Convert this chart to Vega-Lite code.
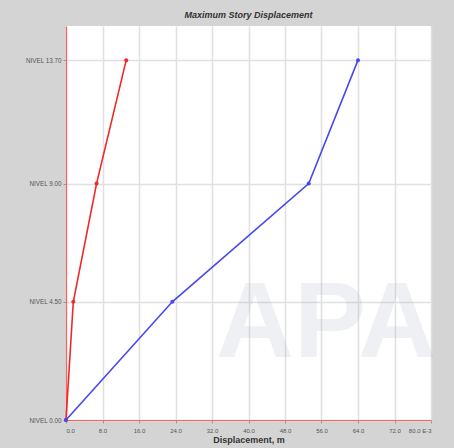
{
  "$schema": "https://vega.github.io/schema/vega-lite/v6.json",
  "autosize": "none",
  "width": 365,
  "height": 394,
  "padding": {"left": 66, "top": 26, "right": 23, "bottom": 28},
  "background": "#d4d4d4",
  "title": {"text": "Maximum Story Displacement", "font": "Liberation Sans", "fontSize": 9, "fontStyle": "italic", "fontWeight": "bold", "color": "#333333", "offset": 6, "anchor": "middle"},
  "config": {
    "view": {"fill": "white", "stroke": null},
    "axis": {"labelFont": "Liberation Sans", "titleFont": "Liberation Sans", "labelColor": "#555555", "tickColor": "#999999", "tickSize": 3, "gridColor": "#e0e0e0", "gridWidth": 1.5}
  },
  "data": {"values": [
    {"case": "red", "x": 0, "y": 0},
    {"case": "red", "x": 1.6, "y": 4.5},
    {"case": "red", "x": 6.7, "y": 9.0},
    {"case": "red", "x": 13.2, "y": 13.7},
    {"case": "blue", "x": 0, "y": 0},
    {"case": "blue", "x": 23.3, "y": 4.5},
    {"case": "blue", "x": 53.2, "y": 9.0},
    {"case": "blue", "x": 64.0, "y": 13.7}
  ]},
  "encoding": {
    "x": {"field": "x", "type": "quantitative", "scale": {"domain": [0, 80], "nice": false},
      "axis": {"values": [0, 8, 16, 24, 32, 40, 48, 56, 64, 72, 80], "labelExpr": "datum.value == 80 ? '80.0 E-3' : format(datum.value, '.1f')", "labelOverlap": false, "labelBound": false, "labelFontSize": 6, "labelPadding": 4, "domainColor": "#ff6060", "domainWidth": 1.2, "title": "Displacement, m", "titleFontSize": 9, "titleFontWeight": "bold", "titleColor": "#333333", "titlePadding": 2}},
    "y": {"field": "y", "type": "quantitative", "scale": {"domain": [0, 15], "nice": false},
      "axis": {"values": [0, 4.5, 9, 13.7], "labelExpr": "'NIVEL ' + format(datum.value, '.2f')", "labelOverlap": false, "labelFontSize": 6.3, "labelPadding": 2, "domainColor": "#ff6060", "domainWidth": 1.2, "title": null}}
  },
  "layer": [
    {
      "data": {"values": [{"t": "APA", "x": 57, "y": 2.4}]},
      "mark": {"type": "text", "fontSize": 108, "fontWeight": "bold", "font": "Liberation Sans", "color": "#8a95a5", "opacity": 0.13, "baseline": "alphabetic", "clip": false},
      "encoding": {
        "text": {"field": "t"}
      }
    },
    {
      "mark": {"type": "line", "strokeWidth": 1.6, "point": {"filled": true, "size": 16}},
      "encoding": {
        "color": {"field": "case", "type": "nominal", "scale": {"domain": ["red", "blue"], "range": ["#f02828", "#4848f0"]}, "legend": null},
        "order": {"field": "y", "type": "quantitative"}
      }
    }
  ]
}
